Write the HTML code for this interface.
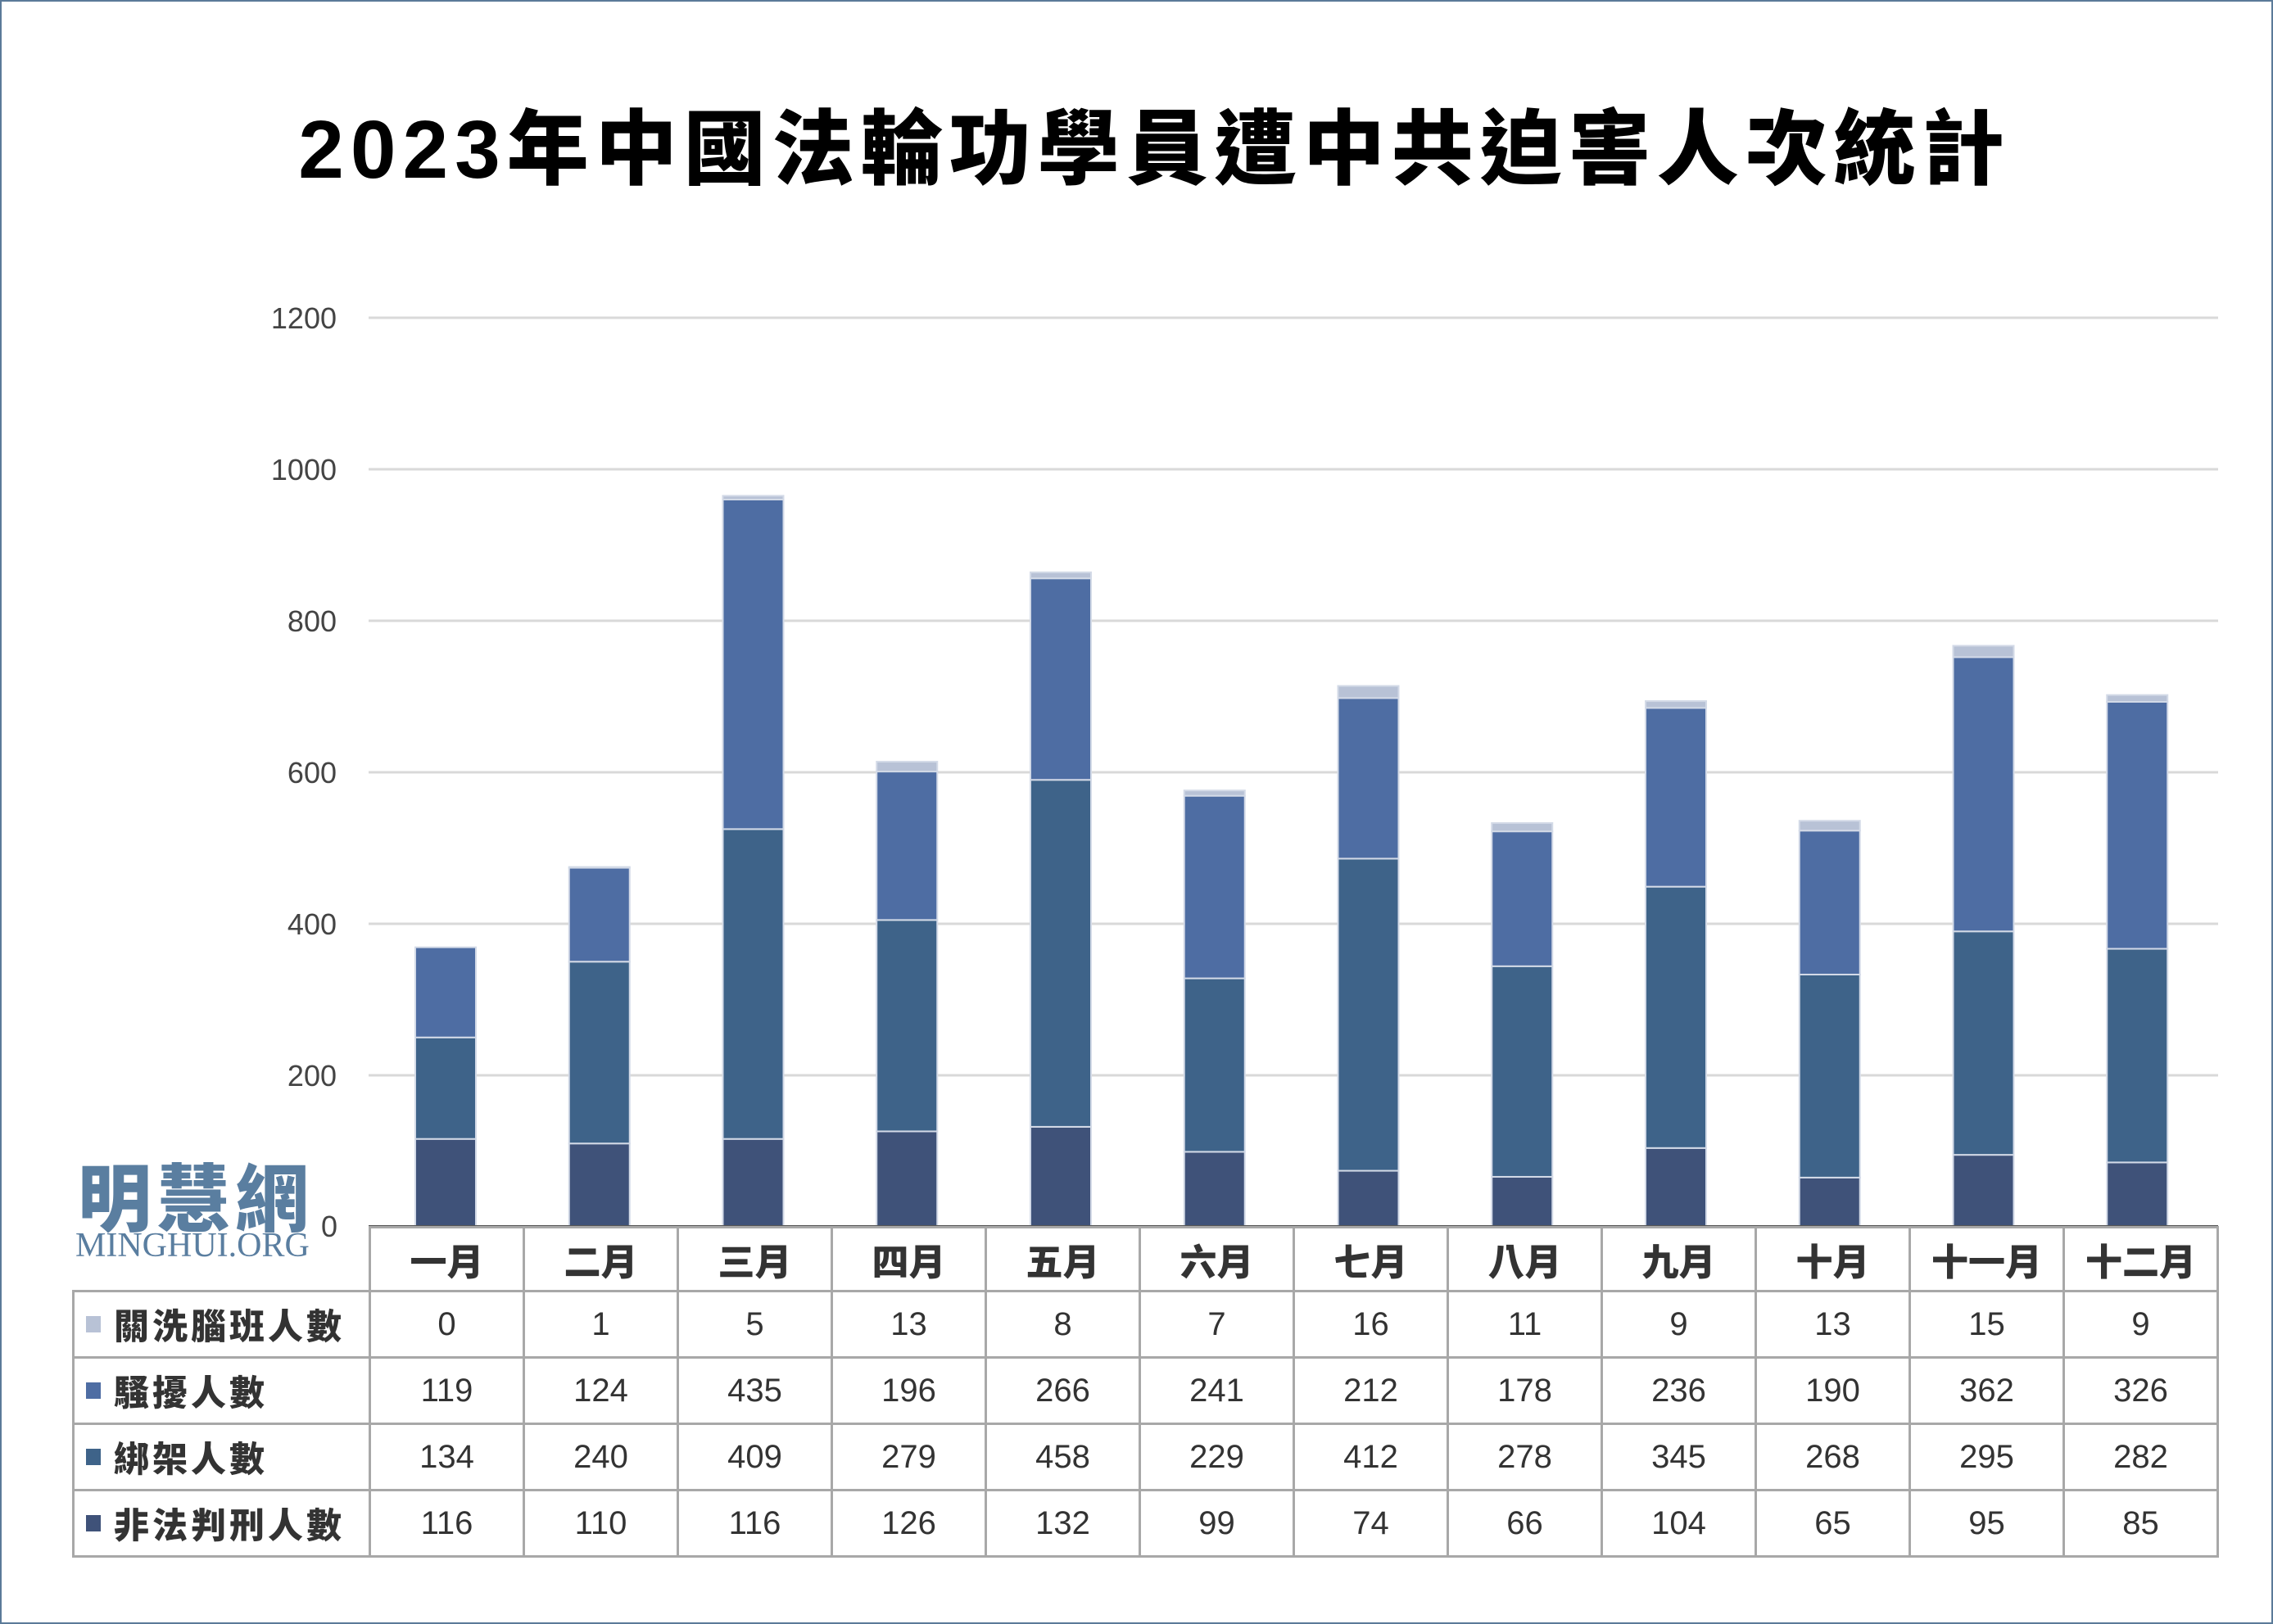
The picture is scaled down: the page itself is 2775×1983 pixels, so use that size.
<!DOCTYPE html>
<html><head><meta charset="utf-8"><style>
html,body{margin:0;padding:0;background:#fff}
body{width:2775px;height:1983px;position:relative;overflow:hidden;font-family:"Liberation Sans","Noto Sans CJK TC",sans-serif}
#frame{position:absolute;left:0;top:0;width:2771px;height:1979px;border:2px solid #5B7A99}
#title{position:absolute;left:22px;width:2775px;top:118px;text-align:center;font:900 100px "Liberation Sans","Noto Sans CJK TC",sans-serif;letter-spacing:8px;color:#000;line-height:130px}
.yl{position:absolute;width:100px;text-align:right;left:311px;font-size:36px;color:#444;line-height:40px}
table{position:absolute;left:88px;top:1497px;border-collapse:collapse;font-family:"Liberation Sans","Noto Sans CJK TC",sans-serif}
td{border:3px solid #A8A8A8;text-align:center;font-size:40px;color:#333;padding:0;width:185px}
tr.h td{height:75px;font-weight:900;font-size:45px}
tr.d td{height:78px}
td.lab{width:359px;text-align:left;font-weight:900;font-size:43px;letter-spacing:4px;white-space:nowrap}
td.blank{border:none;border-bottom:3px solid #A8A8A8;border-right:3px solid #A8A8A8}
.sq{display:inline-block;width:18px;height:20px;margin:0 16px 0 14px;vertical-align:8px}
#logo{position:absolute;left:95px;top:1392px;font:900 90px "Noto Sans CJK TC",sans-serif;color:#5A7EA0;letter-spacing:6px}
#org{position:absolute;left:92px;top:1497px;font:42px "Liberation Serif",serif;color:#5A7EA0;letter-spacing:0px}
</style></head><body>
<div id="frame"></div>
<div id="title">2023年中國法輪功學員遭中共迫害人次統計</div>
<svg id="s" width="2775" height="1983" style="position:absolute;left:0;top:0"></svg>
<div class="yl" style="top:369px">1200</div>
<div class="yl" style="top:554px">1000</div>
<div class="yl" style="top:739px">800</div>
<div class="yl" style="top:924px">600</div>
<div class="yl" style="top:1109px">400</div>
<div class="yl" style="top:1294px">200</div>
<div class="yl" style="top:1478px;left:312px">0</div>
<div id="logo">明慧網</div>
<div id="org">MINGHUI.ORG</div>
<table>
<tr class="h"><td class="blank lab"></td><td>一月</td><td>二月</td><td>三月</td><td>四月</td><td>五月</td><td>六月</td><td>七月</td><td>八月</td><td>九月</td><td>十月</td><td>十一月</td><td>十二月</td></tr>
<tr class="d"><td class="lab"><span class="sq" style="background:#B8C2D6"></span>關洗腦班人數</td><td>0</td><td>1</td><td>5</td><td>13</td><td>8</td><td>7</td><td>16</td><td>11</td><td>9</td><td>13</td><td>15</td><td>9</td></tr>
<tr class="d"><td class="lab"><span class="sq" style="background:#4E6DA3"></span>騷擾人數</td><td>119</td><td>124</td><td>435</td><td>196</td><td>266</td><td>241</td><td>212</td><td>178</td><td>236</td><td>190</td><td>362</td><td>326</td></tr>
<tr class="d"><td class="lab"><span class="sq" style="background:#3E6389"></span>綁架人數</td><td>134</td><td>240</td><td>409</td><td>279</td><td>458</td><td>229</td><td>412</td><td>278</td><td>345</td><td>268</td><td>295</td><td>282</td></tr>
<tr class="d"><td class="lab"><span class="sq" style="background:#3F5279"></span>非法判刑人數</td><td>116</td><td>110</td><td>116</td><td>126</td><td>132</td><td>99</td><td>74</td><td>66</td><td>104</td><td>65</td><td>95</td><td>85</td></tr>
</table>
<script>
var s=document.getElementById('s'),h='';
for(var i=0;i<=6;i++){var y=1498-i*185;h+='<line x1="450" x2="2708" y1="'+y+'" y2="'+y+'" stroke="#D9D9D9" stroke-width="3"/>';}
var d=[[116,110,116,126,132,99,74,66,104,65,95,85],[134,240,409,279,458,229,412,278,345,268,295,282],[119,124,435,196,266,241,212,178,236,190,362,326],[0,1,5,13,8,7,16,11,9,13,15,9]];
var c=['#3F5279','#3E6389','#4E6DA3','#B8C2D6'];
for(var m=0;m<12;m++){var cx=544+m*187.75,acc=0;
for(var k=0;k<4;k++){var v=d[k][m];if(!v)continue;var y1=1498-(acc+v)*0.925,y0=1498-acc*0.925;acc+=v;
h+='<rect x="'+(cx-37)+'" y="'+y1+'" width="74" height="'+(y0-y1)+'" fill="'+c[k]+'" stroke="#D3DAE7" stroke-width="2"/>';}}
h+='<line x1="450" x2="2708" y1="1498" y2="1498" stroke="#555" stroke-width="4"/>';
s.innerHTML=h;
</script>
</body></html>
